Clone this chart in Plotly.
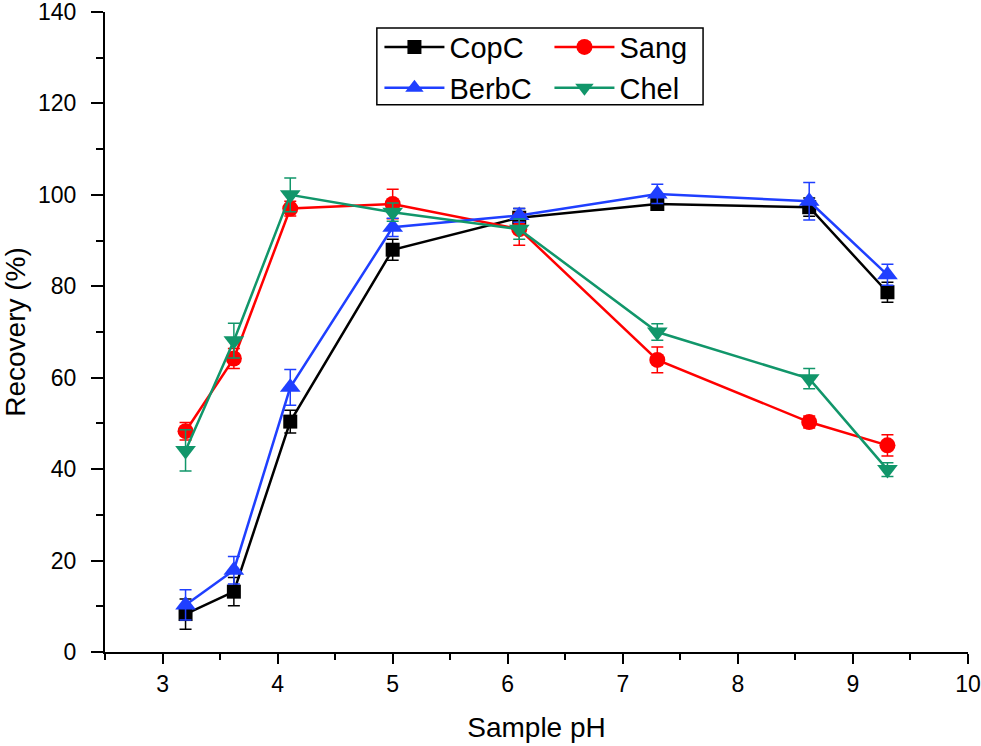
import plotly.graph_objects as go

# Sample pH values
ph = [3.2, 3.62, 4.11, 5.0, 6.1, 7.3, 8.62, 9.3]

# Recovery (%) and standard deviations
copc = [8.3, 13.2, 50.4, 88.0, 95.0, 98.0, 97.3, 78.7]
copc_err = [3.3, 3.1, 2.5, 2.3, 2.0, 1.0, 2.0, 2.2]

sang = [48.3, 64.2, 97.0, 98.0, 92.5, 63.9, 50.3, 45.2]
sang_err = [1.9, 2.2, 1.6, 3.2, 3.5, 2.8, 1.3, 2.3]

berbc = [10.3, 17.9, 57.9, 92.9, 95.5, 100.2, 98.6, 82.5]
berbc_err = [3.3, 3.0, 3.9, 2.0, 1.5, 2.1, 4.1, 2.3]

chel = [44.1, 68.1, 100.0, 96.2, 92.5, 70.0, 59.8, 39.9]
chel_err = [4.5, 3.8, 3.7, 2.0, 2.2, 1.8, 2.2, 1.5]

series = [
    ("CopC", copc, copc_err, "#000000", "square", 14, "legend"),
    ("Sang", sang, sang_err, "#ff0000", "circle", 16, "legend2"),
    ("BerbC", berbc, berbc_err, "#1f3fff", "triangle-up", 18, "legend"),
    ("Chel", chel, chel_err, "#11966a", "triangle-down", 18, "legend2"),
]

fig = go.Figure()

for name, vals, errs, color, symbol, size, leg in series:
    fig.add_trace(go.Scatter(
        x=ph, y=vals, name=name, mode="lines+markers",
        line=dict(color=color, width=2.5),
        marker=dict(symbol=symbol, size=size, color=color),
        error_y=dict(type="data", array=errs, visible=True,
                     color=color, thickness=1.5, width=6),
        legend=leg,
    ))

axis_font = dict(family="Liberation Sans, Arial", size=23, color="black")
title_font = dict(family="Liberation Sans, Arial", size=28, color="black")
legend_font = dict(family="Liberation Sans, Arial", size=29, color="black")

fig.update_layout(
    width=981, height=746,
    margin=dict(l=105, r=13, t=12, b=94),
    paper_bgcolor="white",
    plot_bgcolor="white",
    showlegend=True,
    legend=dict(x=0.318, y=0.985, xanchor="left", yanchor="top",
                bgcolor="rgba(0,0,0,0)", font=legend_font,
                tracegroupgap=0, itemwidth=60),
    legend2=dict(x=0.515, y=0.985, xanchor="left", yanchor="top",
                 bgcolor="rgba(0,0,0,0)", font=legend_font,
                 tracegroupgap=0, itemwidth=60),
    shapes=[dict(type="rect", xref="paper", yref="paper",
                 x0=0.315, x1=0.693, y0=0.855, y1=0.975,
                 line=dict(color="black", width=1.5))],
)

fig.update_xaxes(
    range=[2.5, 10], dtick=1, tick0=0, automargin=False,
    showline=True, linecolor="black", linewidth=2,
    showgrid=False, zeroline=False,
    ticks="outside", ticklen=10, tickwidth=2, tickcolor="black",
    minor=dict(dtick=0.5, ticks="outside", ticklen=6, tickwidth=2, tickcolor="black", showgrid=False),
    tickfont=axis_font, ticklabeloverflow="allow",
    title=dict(text="Sample pH", font=title_font, standoff=22),
)

fig.update_yaxes(
    range=[0, 140], dtick=20, automargin=False,
    showline=True, linecolor="black", linewidth=2,
    showgrid=False, zeroline=False,
    ticks="outside", ticklen=12, tickwidth=2, tickcolor="black",
    minor=dict(dtick=10, ticks="outside", ticklen=7, tickwidth=2, tickcolor="black", showgrid=False),
    tickfont=axis_font, ticklabeloverflow="allow", ticklabelstandoff=10,
    title=dict(text="Recovery (%)", font=title_font, standoff=10),
)

# page body has a default 8px margin; drop it so the figure sits at the corner
fig.write_html("out.html", config={"displayModeBar": False},
               post_script="document.body.style.margin='0';")
